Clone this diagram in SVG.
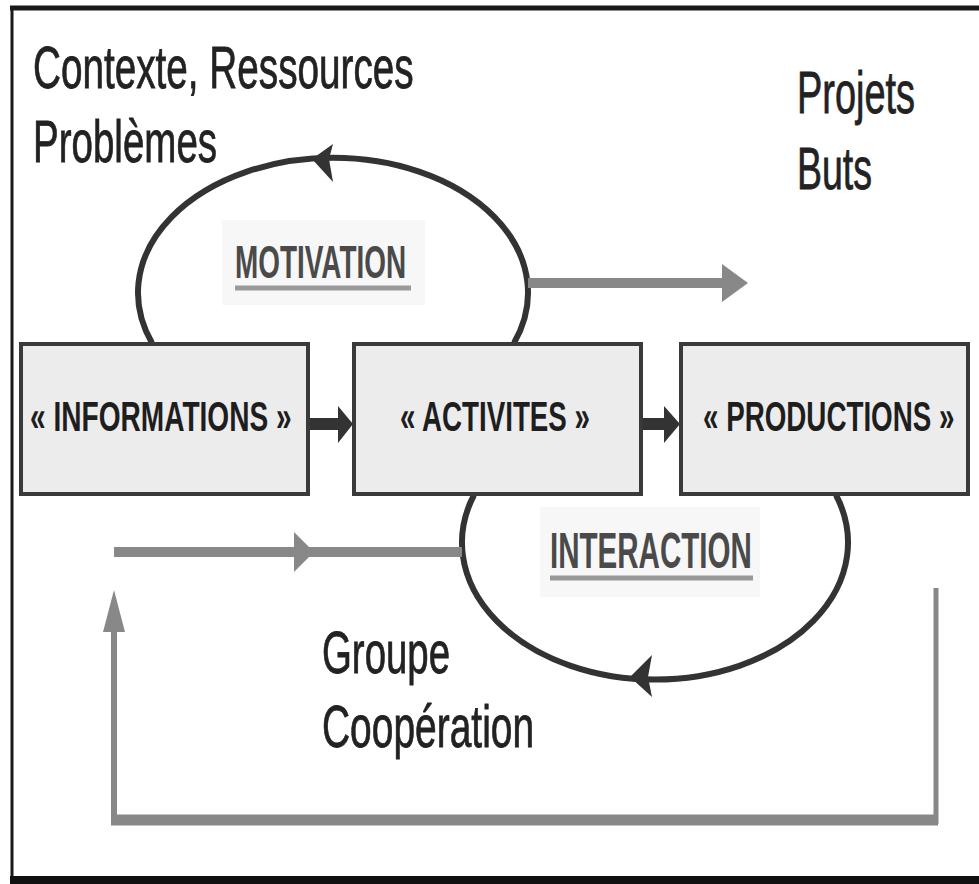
<svg xmlns="http://www.w3.org/2000/svg" width="979" height="884" viewBox="0 0 979 884">
<defs>
<style>
.lbl{font-family:"Liberation Sans",Arial,sans-serif;font-size:60px;fill:#222;stroke:#222;stroke-width:0.8;}
.box rect{fill:#ececec;stroke:#3a3a3a;stroke-width:4;}
.btxt{font-family:"Liberation Sans",Arial,sans-serif;font-size:42px;font-weight:bold;fill:#1e1e1e;}
.key{font-family:"Liberation Sans",Arial,sans-serif;font-weight:bold;fill:#4a4a4a;}
.loop{fill:none;stroke:#333;stroke-width:6;}
.dark{fill:#333;}
.grayl{stroke:#888;fill:none;}
.gray{fill:#888;}
.bg{fill:#f7f7f7;}
</style>
</defs>
<rect x="0" y="0" width="979" height="884" fill="#fff"/>
<g id="frame">
<line x1="10" y1="8" x2="979" y2="8" stroke="#1a1a1a" stroke-width="5"/>
<line x1="12" y1="6" x2="12" y2="884" stroke="#1a1a1a" stroke-width="3"/>
<rect x="10" y="876" width="969" height="8" fill="#111"/>
</g>
<g id="labels">
<text class="lbl" transform="translate(33,88) scale(0.645,1)">Contexte, Ressources</text>
<text class="lbl" transform="translate(33,162) scale(0.642,1)">Problèmes</text>
<text class="lbl" transform="translate(797,113) scale(0.632,1)">Projets</text>
<text class="lbl" transform="translate(797,189) scale(0.625,1)">Buts</text>
<text class="lbl" transform="translate(322,673) scale(0.64,1)">Groupe</text>
<text class="lbl" transform="translate(322,747) scale(0.649,1)">Coopération</text>
</g>
<g id="motivation">
<rect class="bg" x="222" y="220" width="203" height="85"/>
<text class="key" font-size="46" transform="translate(235,278) scale(0.607,1)">MOTIVATION</text>
<line x1="235" y1="288" x2="411" y2="288" stroke="#999" stroke-width="5"/>
</g>
<g id="interaction">
<rect class="bg" x="540" y="507" width="220" height="90"/>
<text class="key" font-size="50" transform="translate(550,568) scale(0.591,1)">INTERACTION</text>
<line x1="550" y1="578" x2="753" y2="578" stroke="#999" stroke-width="5"/>
</g>
<g id="connectors">
<path class="loop" d="M152,343 A195,135 0 1,1 514,343"/>
<polygon class="dark" points="312,159 333,144 329,159 333,182"/>
<path class="loop" d="M474,495 A193,137 0 1,0 836,495"/>
<polygon class="dark" points="630,677 652,655 648,677 652,697"/>
<line class="grayl" x1="528" y1="283" x2="726" y2="283" stroke-width="10"/>
<polygon class="gray" points="722,264 748,283 722,302"/>
<line class="grayl" x1="114" y1="552" x2="462" y2="552" stroke-width="10"/>
<polygon class="gray" points="294,532 314,552 294,572"/>
<line class="grayl" x1="936" y1="588" x2="936" y2="824" stroke-width="5"/>
<line class="grayl" x1="111" y1="820" x2="938" y2="820" stroke-width="11"/>
<line class="grayl" x1="114" y1="825" x2="114" y2="628" stroke-width="6"/>
<polygon class="gray" points="114,590 125,632 103,632"/>
<rect class="dark" x="309" y="418" width="32" height="12"/>
<polygon class="dark" points="338,406 353,424 338,443"/>
<rect class="dark" x="642" y="418" width="26" height="12"/>
<polygon class="dark" points="664,406 680,424 664,443"/>
</g>
<g id="informations" class="box">
<rect x="21" y="344" width="287" height="150"/>
<text class="btxt" transform="translate(30,431) scale(0.669,1)">« INFORMATIONS »</text>
</g>
<g id="activites" class="box">
<rect x="354" y="344" width="287" height="150"/>
<text class="btxt" transform="translate(400,431) scale(0.66,1)">« ACTIVITES »</text>
</g>
<g id="productions" class="box">
<rect x="681" y="344" width="287" height="150"/>
<text class="btxt" transform="translate(703,431) scale(0.661,1)">« PRODUCTIONS »</text>
</g>
</svg>
